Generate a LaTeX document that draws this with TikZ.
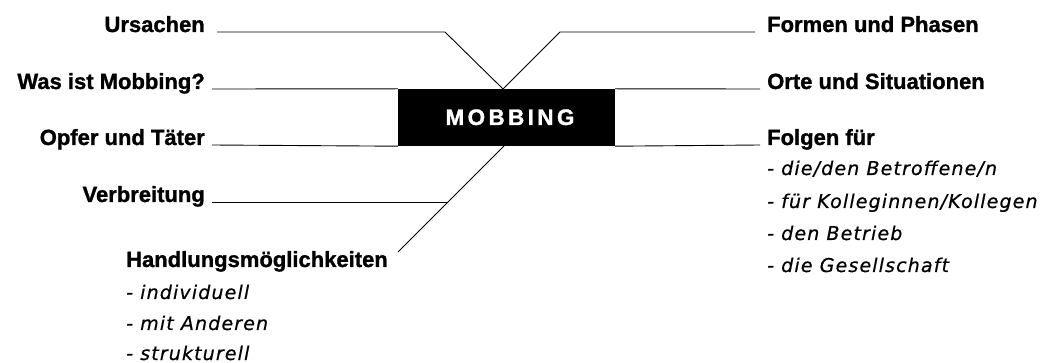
\documentclass[tikz,border=0pt]{standalone}
\usepackage{fontspec}
\setmainfont{Liberation Sans}[BoldFeatures={FakeBold=1.2}]
\newfontfamily\itemfont{DejaVu Sans}[LetterSpace=6,ItalicFeatures={FakeBold=0.6}]
\newfontfamily\hubfont{Liberation Sans}[LetterSpace=15,BoldFeatures={FakeBold=1.2}]
\begin{document}
\begin{tikzpicture}[x=1pt,y=-1pt,
  lbl/.style={font=\fontsize{22}{26}\selectfont\bfseries, inner sep=0pt},
  lbll/.style={lbl, anchor=base east},
  lblr/.style={lbl, anchor=base west},
  itm/.style={font=\itemfont\itshape\fontsize{19}{22}\selectfont, inner sep=0pt, anchor=base west},
  ln/.style={line width=0.9pt, black},
  hubbox/.style={fill=black, draw=none, inner sep=0pt, minimum width=217pt, minimum height=57pt}]
\useasboundingbox (0,0) rectangle (1047,363);
% hub
\node[hubbox] (hub) at (506.5,117.5) {};
\node[font=\hubfont\bfseries\fontsize{22.5}{26}\selectfont, text=white, inner sep=0pt, anchor=base] (hubt) at (510,125) {MOBBING};
\coordinate (ct) at (503,89);
\coordinate (cb) at (504,146);
% left labels
\node[lbll] (urs) at (205,32) {Ursachen};
\node[lbll] (was) at (205,89) {Was ist Mobbing?};
\node[lbll] (opf) at (205,145) {Opfer und Täter};
\node[lbll] (ver) at (205,202) {Verbreitung};
\node[lblr] (han) at (126,267) {Handlungsmöglichkeiten};
\node[itm] (h1) at (126,299) {- individuell};
\node[itm] (h2) at (126,330) {- mit Anderen};
\node[itm] (h3) at (126,360) {- strukturell};
% right labels
\node[lblr] (for) at (767,32) {Formen und Phasen};
\node[lblr] (ort) at (767,89) {Orte und Situationen};
\node[lblr] (fol) at (767,145) {Folgen für};
\node[itm] (f1) at (767,175) {- die/den Betroffene/n};
\node[itm] (f2) at (767,208) {- für Kolleginnen/Kollegen};
\node[itm] (f3) at (767,240) {- den Betrieb};
\node[itm] (f4) at (767,272) {- die Gesellschaft};
% connector points
\coordinate (ursA) at (217,32);
\coordinate (ursB) at (445,32);
\coordinate (forA) at (755,32);
\coordinate (forB) at (560,32);
\coordinate (wasA) at (212,89);
\coordinate (ortA) at (760,89);
\coordinate (opfA) at (212,145);
\coordinate (folA) at (760,145);
\coordinate (verA) at (212,202);
\coordinate (verB) at (448,202);
\coordinate (hanA) at (398,252);
% connectors
\draw[ln] (ursA) -- (ursB) -- (ct);
\draw[ln] (forA) -- (forB) -- (ct);
\draw[ln] (wasA) -- (hub.north west);
\draw[ln] (hub.north east) -- (ortA);
\draw[ln] (opfA) -- (hub.south west);
\draw[ln] (hub.south east) -- (folA);
\draw[ln] (verA) -- (verB);
\draw[ln] (cb) -- (hanA);
\end{tikzpicture}
\end{document}
